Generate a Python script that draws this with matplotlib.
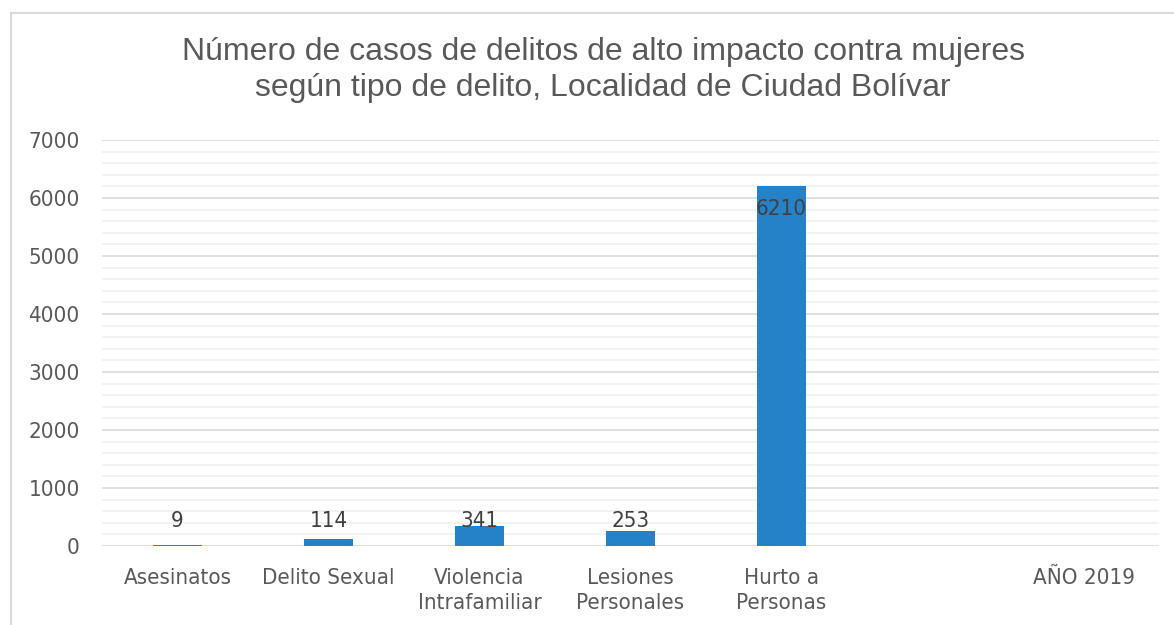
import matplotlib.pyplot as plt
from matplotlib.patches import Rectangle
from matplotlib.ticker import MultipleLocator

# datos
categorias = ['Asesinatos', 'Delito Sexual', 'Violencia\nIntrafamiliar',
              'Lesiones\nPersonales', 'Hurto a\nPersonas', '', 'AÑO 2019']
casos = [9, 114, 341, 253, 6210, None, None]
y_ticks = [0, 1000, 2000, 3000, 4000, 5000, 6000, 7000]

titulo = ('Número de casos de delitos de alto impacto contra mujeres\n'
          'según tipo de delito, Localidad de Ciudad Bolívar')

W, H = 1174, 625
fig = plt.figure(figsize=(W / 100, H / 100), dpi=100)
ax = fig.add_axes([102 / W, 1 - 546 / H, (1159 - 102) / W, (546 - 140) / H])

# marco exterior del gráfico
fig.patches.append(Rectangle((10.5 / W, -0.05), 1.2, 1 - 12.5 / H + 0.05,
                             transform=fig.transFigure, fill=False,
                             edgecolor='#d9d9d9', linewidth=1.5))

x = list(range(len(categorias)))
for i, v in enumerate(casos):
    if v is None:
        continue
    ax.bar(i, v, width=0.33, color='#2682c8', zorder=3)
    if v > 3000:
        ax.text(i, v - 230, str(v), ha='center', va='top', fontsize=16,
                color='#404040', fontstretch='condensed', zorder=4)
    else:
        ax.text(i, 430, str(v), ha='center', va='center', fontsize=16,
                color='#404040', fontstretch='condensed', zorder=4)

ax.set_xlim(-0.5, len(categorias) - 0.5)
ax.set_ylim(0, 7000)
ax.set_yticks(y_ticks)
ax.yaxis.set_minor_locator(MultipleLocator(200))
ax.grid(axis='y', which='major', color='#d9d9d9', linewidth=1.2, zorder=0)
ax.grid(axis='y', which='minor', color='#f0f0f0', linewidth=1.2, zorder=0)
ax.set_xticks(x)
ax.set_xticklabels(categorias, fontsize=16, color='#595959',
                   fontstretch='condensed', linespacing=1.3)
for lbl in ax.get_yticklabels():
    lbl.set_fontsize(16)
    lbl.set_color('#595959')
    lbl.set_fontstretch('condensed')
ax.tick_params(axis='both', which='both', length=0)
ax.tick_params(axis='x', pad=16)
ax.tick_params(axis='y', pad=16)
for s in ['top', 'right', 'left', 'bottom']:
    ax.spines[s].set_visible(False)

fig.text(603 / W, 1 - 70 / H, titulo, ha='center', va='center',
         fontsize=23, color='#595959', family='Liberation Sans',
         linespacing=1.25)

fig.savefig('out.png', dpi=100)
